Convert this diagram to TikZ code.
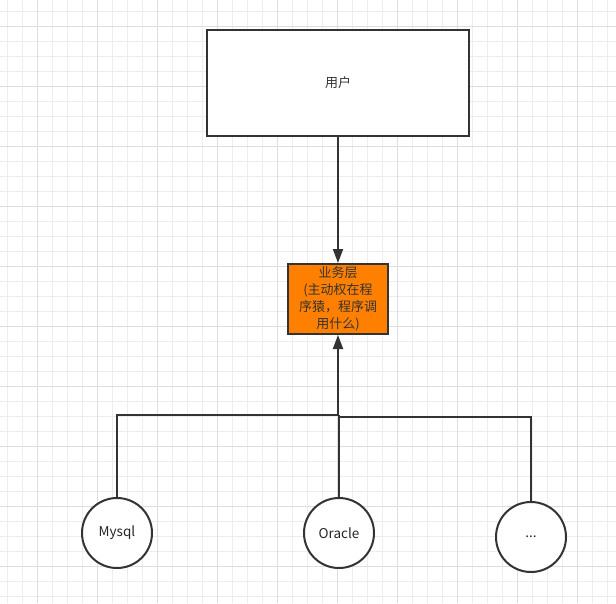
\documentclass[tikz,border=0pt]{standalone}
\usepackage{fontspec}
\setmainfont{Noto Sans CJK SC}
\usetikzlibrary{arrows.meta}
\definecolor{linec}{HTML}{333333}
\definecolor{orangec}{HTML}{FF8000}
\definecolor{minorg}{HTML}{EDEDED}
\definecolor{majorg}{HTML}{DEDEDE}
\tikzset{
  conn/.style={draw=linec, line width=2pt},
  arr/.style={conn, -{Triangle[length=14pt,width=10pt]}},
  boxw/.style={draw=linec, line width=2pt, fill=white, minimum width=262pt, minimum height=106pt, inner sep=0pt, font=\fontsize{13}{15}\selectfont, text=black!80},
  boxo/.style={draw=linec, line width=2pt, fill=orangec, minimum width=100pt, minimum height=70pt, inner sep=0pt, align=center, font=\fontsize{13}{17}\selectfont, text=black!80},
  db/.style={circle, draw=linec, line width=2pt, fill=white, minimum size=70pt, inner sep=0pt, font=\fontsize{13.5}{15}\selectfont, text=black!85}
}
\begin{document}
\begin{tikzpicture}[x=1pt,y=-1pt]
\useasboundingbox (0,0) rectangle (616,603);
\fill[white] (0,0) rectangle (616,603);
% grid
\foreach \i in {0,...,40} {
  \draw[minorg, line width=1pt] ({7.5+15*\i},0) -- ({7.5+15*\i},603);
  \draw[minorg, line width=1pt] (0,{11.5+15*\i}) -- (616,{11.5+15*\i});
}
\foreach \i in {0,...,10} {
  \draw[majorg, line width=1pt] ({37.5+60*\i},0) -- ({37.5+60*\i},603);
  \draw[majorg, line width=1pt] (0,{26.5+60*\i}) -- (616,{26.5+60*\i});
}
% nodes
\node[boxw] (user) at (338,83) {用户};
\node[boxo] (biz) at (338,299) {业务层\\(主动权在程\\序猿，程序调\\用什么)};
\node[db] (mysql) at (117,533) {Mysql};
\node[db] (oracle) at (339,533) {Oracle};
\node[db] (dots) at (531,537) {...};
\coordinate (jl) at (338,415);
\coordinate (jr) at (338,417);
% connectors
\draw[arr] (user) -- (biz);
\draw[conn] (mysql.north) |- (jl);
\draw[conn] (dots.north) |- (jr);
\draw[conn] (oracle.north) -- (oracle.north |- jl);
\draw[arr] (jl) -- (biz.south);
\end{tikzpicture}
\end{document}
